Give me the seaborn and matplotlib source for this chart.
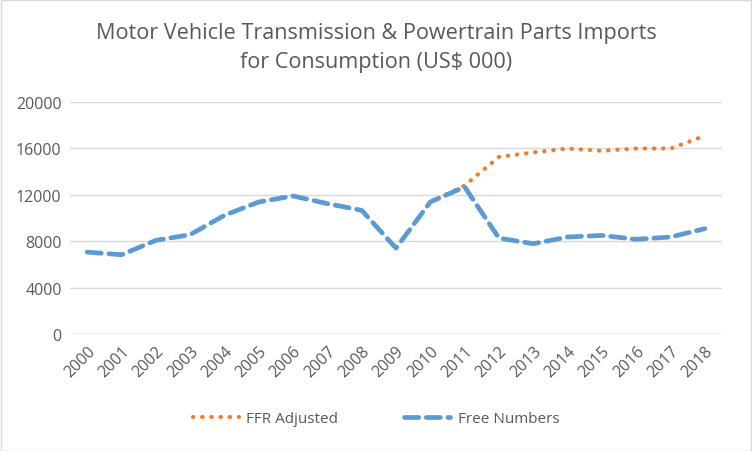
import matplotlib
matplotlib.use("Agg")
import matplotlib.pyplot as plt
import seaborn as sns
import pandas as pd
from matplotlib.patches import Rectangle

years = list(range(2000, 2019))
free_numbers = [7060, 6830, 8070, 8560, 10230, 11380, 11900, 11240, 10660, 7400,
                11380, 12680, 8270, 7780, 8360, 8500, 8160, 8360, 9080]
ffr_years = list(range(2010, 2019))
ffr_adjusted = [11380, 12800, 15270, 15650, 15990, 15790, 15990, 15990, 17090]
yticks = [0, 4000, 8000, 12000, 16000, 20000]

sns.set_theme(style="white")
plt.rcParams['font.family'] = ['Open Sans', 'DejaVu Sans']

fig = plt.figure(figsize=(7.52, 4.52), dpi=100)
ax = fig.add_axes([70/752, 1-335/452, 652/752, 232/452])

grey = "#595959"
sns.lineplot(x=ffr_years, y=ffr_adjusted, ax=ax, color="#ED7D31", linewidth=3.0,
             linestyle=(0, (0.1, 2.1)), dash_capstyle="round", label="FFR Adjusted",
             zorder=2)
sns.lineplot(x=years, y=free_numbers, ax=ax, color="#5B9BD5", linewidth=3.4,
             linestyle=(0, (3.0, 1.6)), dash_capstyle="round", label="Free Numbers",
             zorder=3)

ax.set_xlim(years[0] - 0.5, years[-1] + 0.5)
ax.set_ylim(0, 20000)
ax.set_yticks(yticks)
ax.set_yticklabels([str(v) for v in yticks], fontsize=11.5, color=grey)
ax.set_xticks(years)
ax.set_xticklabels([str(y) for y in years], rotation=45, ha="right",
                   rotation_mode="anchor", fontsize=11.5, color=grey)
ax.tick_params(axis="both", length=0, pad=6)
ax.grid(axis="y", color="#D9D9D9", linewidth=1.0)
ax.set_axisbelow(True)
for s in ax.spines.values():
    s.set_visible(False)
ax.axhline(0, color="#D9D9D9", linewidth=1.0, zorder=1)
ax.set_xlabel("")
ax.set_ylabel("")

fig.text(0.5, 1 - 33/452, "Motor Vehicle Transmission & Powertrain Parts Imports",
         ha="center", va="center", fontsize=15.6, color=grey)
fig.text(0.5, 1 - 63/452, "for Consumption (US$ 000)",
         ha="center", va="center", fontsize=15.6, color=grey)

leg = ax.legend(loc="center", bbox_to_anchor=(0.5, 1 - 420/452), bbox_transform=fig.transFigure,
                ncol=2, frameon=False, fontsize=11, handlelength=3.0, handletextpad=0.5,
                columnspacing=4.3)
for t in leg.get_texts():
    t.set_color(grey)

fig.patches.append(Rectangle((0.5/752, 0.5/452), 1 - 1.5/752, 1 - 1.5/452,
                             transform=fig.transFigure, fill=False,
                             edgecolor="#D9D9D9", linewidth=1.0))

fig.savefig("out.png", dpi=100)
